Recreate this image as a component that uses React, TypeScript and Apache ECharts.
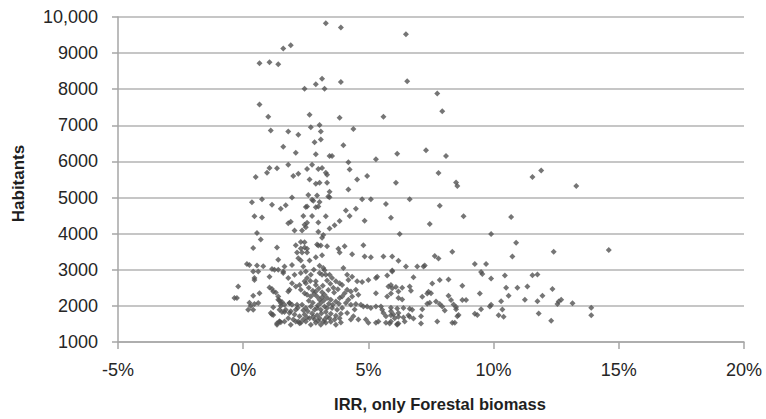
import { useEffect, useRef } from "react";
import * as echarts from "echarts";

// IRR (%) vs. number of habitants, one point per municipality.
const X_RANGE = { min: -5, max: 20, step: 5 };
const Y_RANGE = { min: 1000, max: 10000, step: 1000 };

// Municipalities above 6000 habitants
const upperBand: [number, number][] = [
  [3.3, 9830], [3.9, 9710], [6.5, 9520], [1.6, 9130], [1.9, 9220], [0.65, 8720], [1.05, 8750],
  [1.4, 8690], [3.15, 8290], [2.9, 8140], [3.9, 8200], [2.45, 8010], [3.25, 8010], [6.55, 8220],
  [7.75, 7880], [7.95, 7390], [0.65, 7580], [1.0, 7240], [2.65, 7290], [3.85, 7210], [5.6, 7240],
  [1.1, 6860], [1.8, 6830], [2.2, 6740], [2.7, 6950], [3.05, 7010], [3.1, 6830], [4.4, 6900],
  [3.1, 6610], [1.6, 6410], [2.85, 6530], [4.0, 6450], [2.1, 6240], [2.9, 6200], [3.45, 6150],
  [3.55, 6150], [6.15, 6210], [7.3, 6310], [8.1, 6150], [5.3, 6060],
];

// Municipalities between 4000 and 6000 habitants
const middleBand: [number, number][] = [
  [4.2, 5980], [1.8, 5910], [2.75, 5910], [1.05, 5820], [1.35, 5810], [0.95, 5690], [0.5, 5570],
  [2.0, 5600], [2.2, 5660], [2.55, 5790], [3.0, 5790], [3.15, 5820], [3.3, 5690], [3.35, 5630],
  [4.25, 5780], [4.95, 5600], [4.55, 5500], [6.1, 5410], [2.65, 5500], [2.9, 5380], [3.05, 5410],
  [3.35, 5410], [4.2, 5220], [3.45, 5160], [2.6, 5070], [2.95, 5060], [3.4, 5030], [3.45, 5010],
  [1.95, 5000], [2.75, 4940], [2.8, 4910], [3.05, 4880], [0.75, 4950], [0.35, 4870], [4.75, 4950],
  [5.1, 4950], [5.7, 4820], [1.15, 4800], [1.5, 4690], [1.7, 4790], [2.5, 4740], [2.55, 4750],
  [2.9, 4730], [3.0, 4750], [4.1, 4640], [4.5, 4690], [0.45, 4480], [0.75, 4450], [2.4, 4490],
  [2.75, 4490], [3.3, 4480], [3.85, 4350], [4.25, 4490], [4.85, 4360], [5.9, 4440], [1.8, 4290],
  [1.9, 4330], [2.45, 4250], [2.5, 4180], [2.55, 4300], [3.0, 4310], [3.45, 4140], [3.65, 4230],
  [2.05, 4090], [2.35, 4090], [3.0, 4050], [3.15, 3890], [3.2, 3960], [0.55, 4020], [0.7, 3840],
  [6.25, 3990], [7.8, 5680], [11.55, 5570], [11.9, 5750], [13.3, 5320], [8.5, 5420], [8.55, 5320],
  [6.65, 4950], [7.85, 4770], [7.45, 4270], [8.8, 4480], [10.7, 4460], [9.9, 3990],
];

// Municipalities between 3000 and 4000 habitants
const lowerBand: [number, number][] = [
  [0.4, 3600], [1.35, 3620], [2.1, 3680], [2.3, 3770], [2.45, 3760], [2.3, 3590], [2.45, 3620],
  [2.55, 3580], [2.95, 3700], [3.0, 3670], [3.1, 3670], [3.35, 3650], [3.8, 3580], [4.05, 3650],
  [4.8, 3680], [2.15, 3480], [2.35, 3480], [2.55, 3480], [2.9, 3350], [3.15, 3400], [3.85, 3480],
  [4.35, 3430], [1.4, 3280], [2.2, 3320], [2.3, 3260], [2.65, 3260], [4.85, 3370], [5.1, 3350],
  [5.6, 3370], [5.95, 3370], [0.15, 3160], [0.25, 3130], [0.55, 3120], [0.8, 3100], [1.15, 3020],
  [1.65, 3090], [1.95, 3130], [2.4, 3090], [3.05, 3110], [3.2, 3050], [4.0, 3050], [10.9, 3750],
  [10.75, 3370], [12.4, 3500], [14.6, 3550], [8.35, 3500], [7.65, 3380], [7.8, 3310], [6.2, 3250],
  [6.5, 3090], [6.95, 3090], [7.2, 3090], [7.25, 3120], [9.25, 3160], [9.7, 3160],
];

// Small municipalities (below 3000 habitants), low IRR
const smallLowIrr: [number, number][] = [
  [0.4, 2950], [0.6, 2950], [0.45, 2770], [0.45, 2720], [1.05, 2810], [1.4, 3000], [1.6, 2950],
  [-0.2, 2540], [-0.35, 2220], [-0.25, 2220], [0.4, 2280], [0.65, 2350], [1.05, 2510], [1.15, 2470],
  [1.3, 2370], [1.4, 2260], [0.25, 2090], [0.3, 2000], [0.45, 2050], [0.6, 2080], [0.2, 1890],
  [0.4, 1890], [1.45, 2150], [1.55, 2110], [1.5, 2000], [1.2, 1960], [1.15, 1760], [1.45, 1890],
  [1.55, 1830], [1.65, 1830], [1.35, 1480], [1.45, 1570], [1.5, 1550],
  [1.25, 3000], [1.6, 2910], [1.8, 2770], [2.05, 2860], [2.3, 2910], [2.5, 2630], [2.9, 2680],
  [1.2, 2400], [1.8, 2400], [2.25, 2580], [1.4, 2170], [1.5, 2080], [1.65, 2030], [1.85, 2080],
  [1.1, 1800], [1.2, 1750], [1.45, 1570], [1.35, 1520], [1.7, 1890], [1.9, 1850], [2.1, 1890],
  [1.8, 1660], [2.0, 1620], [2.2, 1570], [2.4, 1620], [1.65, 1570], [1.9, 1480], [2.25, 1520],
];

// Dense core of small municipalities, IRR between 2% and 4%
const denseCore: [number, number][] = [
  [2.5, 2950], [2.7, 2860], [2.55, 2770], [2.45, 2680], [3.05, 2910], [3.15, 2860], [3.3, 2860],
  [3.45, 2860], [3.55, 2770], [3.7, 2680], [3.85, 2630], [3.95, 2580], [1.95, 2630], [2.1, 2540],
  [1.85, 2450], [2.3, 2450], [2.45, 2350], [2.55, 2310], [2.7, 2260], [2.9, 2400], [2.95, 2260],
  [3.05, 2170], [3.1, 2080], [3.25, 2310], [3.35, 2220], [3.5, 2170], [3.7, 2120], [3.85, 2220],
  [3.95, 2260], [1.85, 2080], [1.95, 2030], [2.15, 2030], [2.35, 2030], [2.5, 1940], [2.7, 1980],
  [2.85, 1890], [2.95, 1940], [3.1, 1890], [3.25, 1980], [3.35, 1940], [3.55, 1940], [3.75, 1890],
  [3.95, 1940], [1.85, 1800], [2.05, 1760], [2.25, 1710], [2.45, 1760], [2.65, 1660], [2.85, 1620],
  [3.05, 1660], [3.25, 1620], [3.45, 1660], [3.65, 1620], [3.85, 1660], [2.1, 1570], [2.3, 1530],
  [2.5, 1570], [2.7, 1480], [2.9, 1530], [3.1, 1480], [3.3, 1530], [3.7, 1480],
  [2.62, 2500], [2.78, 2420], [2.83, 2330], [3.02, 2480], [3.18, 2560], [3.4, 2440], [3.6, 2500],
  [3.48, 2610], [3.63, 2370], [3.78, 2460], [3.22, 2150], [3.42, 2060], [3.58, 2030], [3.82, 2060],
  [2.62, 2140], [2.78, 2090], [2.98, 2010], [3.15, 2240], [2.58, 1850], [2.75, 1790], [2.95, 1740],
  [3.12, 1790], [3.3, 1830], [3.5, 1780], [3.7, 1730], [3.9, 1780], [2.4, 1880], [2.18, 1950],
  [3.0, 1580], [3.2, 1560], [3.5, 1560], [3.9, 1540], [2.55, 1680], [2.8, 1700], [3.35, 1700],
  [3.15, 2380], [2.9, 2580], [2.68, 2690], [3.35, 2700], [3.25, 2990], [2.82, 3000],
];

// Small municipalities (below 3000 habitants), higher IRR
const smallHighIrr: [number, number][] = [
  [4.15, 2860], [4.35, 2810], [4.2, 2720], [4.55, 2680], [4.75, 2660], [5.0, 2720], [5.3, 2350],
  [5.35, 2810], [5.3, 2770], [5.75, 2840], [5.95, 2950], [4.15, 2450], [4.3, 2400], [4.5, 2450],
  [4.6, 2310], [4.35, 2260], [5.8, 2540], [5.95, 2490], [5.75, 2260], [6.2, 2400], [4.1, 2080],
  [4.3, 2030], [4.5, 2050], [4.7, 2030], [4.8, 1980], [4.95, 1980], [5.1, 1940], [5.3, 1980],
  [5.5, 1980], [5.55, 1890], [5.6, 1800], [5.7, 1710], [5.9, 1850], [6.0, 1760], [6.2, 1800],
  [4.4, 1710], [4.6, 1620], [4.9, 1620], [5.0, 1530], [5.3, 1530], [5.4, 1570], [5.7, 1530],
  [5.9, 1570], [6.15, 1500], [4.3, 1620], [4.15, 1800], [4.05, 2350], [4.2, 2170], [4.45, 1900],
  [5.95, 2980], [6.8, 2790], [7.85, 2720], [8.2, 2730], [9.5, 2940], [9.55, 2880], [9.9, 2760],
  [10.45, 2840], [11.55, 2850], [11.75, 2870], [7.55, 2620], [5.9, 2580], [6.1, 2520], [6.35, 2500],
  [6.65, 2540], [6.7, 2420], [8.75, 2560], [10.5, 2500], [10.95, 2500], [11.35, 2540], [12.35, 2470],
  [9.45, 2340], [10.6, 2280], [11.95, 2280], [5.9, 2340], [6.2, 2220], [6.35, 2180], [7.15, 2250],
  [7.35, 2340], [7.4, 2390], [7.5, 2350], [8.2, 2280], [8.3, 2160], [8.4, 2040], [8.75, 2160],
  [8.9, 2160], [10.3, 2130], [11.25, 2170], [11.75, 2130], [12.55, 2050], [12.6, 2120], [12.7, 2170],
  [13.15, 2070], [13.9, 1950], [13.9, 1740], [7.35, 2060], [7.45, 2090], [7.7, 2120], [7.85, 2050],
  [7.95, 1980], [5.9, 1950], [6.15, 1930], [6.4, 1940], [6.65, 1920], [6.75, 1890], [7.15, 1910],
  [8.05, 1870], [8.5, 1970], [8.5, 1910], [9.5, 1910], [9.85, 1980], [9.9, 2030], [10.35, 1900],
  [5.9, 1740], [6.05, 1660], [6.2, 1700], [6.4, 1680], [5.85, 1510], [6.15, 1480], [6.2, 1510],
  [6.45, 1570], [6.6, 1740], [6.65, 1700], [6.8, 1650], [7.1, 1710], [7.1, 1510], [7.75, 1570],
  [8.35, 1530], [8.45, 1530], [8.55, 1710], [8.6, 1750], [9.25, 1780], [9.35, 1750], [10.2, 1740],
  [10.4, 1700], [11.8, 1790], [12.3, 1590],
];

const FONT = "'Liberation Sans', Arial, sans-serif";
const AXIS_GREY = "#a6a6a6";

export default function App() {
  const ref = useRef<HTMLDivElement>(null);

  useEffect(() => {
    document.body.style.margin = "0";
    if (!ref.current) return;
    const chart = echarts.init(ref.current, undefined, { renderer: "svg" });
    const points = [
      ...upperBand,
      ...middleBand,
      ...lowerBand,
      ...smallLowIrr,
      ...denseCore,
      ...smallHighIrr,
    ];

    chart.setOption({
      animation: false,
      backgroundColor: "#ffffff",
      grid: { left: 118, right: 22, top: 17, bottom: 77 },
      xAxis: {
        type: "value",
        min: X_RANGE.min,
        max: X_RANGE.max,
        interval: X_RANGE.step,
        name: "IRR, only Forestal biomass",
        nameLocation: "middle",
        nameGap: 53,
        nameTextStyle: {
          fontFamily: FONT,
          fontSize: 16.5,
          fontWeight: "bold",
          color: "#1f1f1f",
          padding: [0, 0, 0, 18],
        },
        axisLine: { show: true, onZero: false, lineStyle: { color: AXIS_GREY, width: 1.5 } },
        axisTick: { show: true, length: 7, lineStyle: { color: AXIS_GREY, width: 1.5 } },
        axisLabel: {
          margin: 19,
          fontFamily: FONT,
          fontSize: 18,
          color: "#262626",
          formatter: (v: number) => `${v}%`,
        },
        splitLine: { show: false },
      },
      yAxis: {
        type: "value",
        min: Y_RANGE.min,
        max: Y_RANGE.max,
        interval: Y_RANGE.step,
        name: "Habitants",
        nameLocation: "middle",
        nameGap: 91,
        nameTextStyle: {
          fontFamily: FONT,
          fontSize: 17,
          fontWeight: "bold",
          color: "#1f1f1f",
          padding: [0, 8, 0, 0],
        },
        axisLine: { show: true, onZero: false, lineStyle: { color: AXIS_GREY, width: 1.5 } },
        axisTick: { show: true, length: 6, lineStyle: { color: AXIS_GREY, width: 1.5 } },
        axisLabel: {
          margin: 20,
          fontFamily: FONT,
          fontSize: 18,
          color: "#262626",
          formatter: (v: number) => (v >= 10000 ? v.toLocaleString("en-US") : String(v)),
        },
        splitLine: { show: true, lineStyle: { color: "#b3b3b3", width: 1.5 } },
      },
      series: [
        {
          type: "scatter",
          symbol: "diamond",
          symbolSize: 6,
          itemStyle: { color: "#525252" },
          data: points,
        },
      ],
    });

    return () => chart.dispose();
  }, []);

  return <div ref={ref} style={{ width: 766, height: 419 }} />;
}
